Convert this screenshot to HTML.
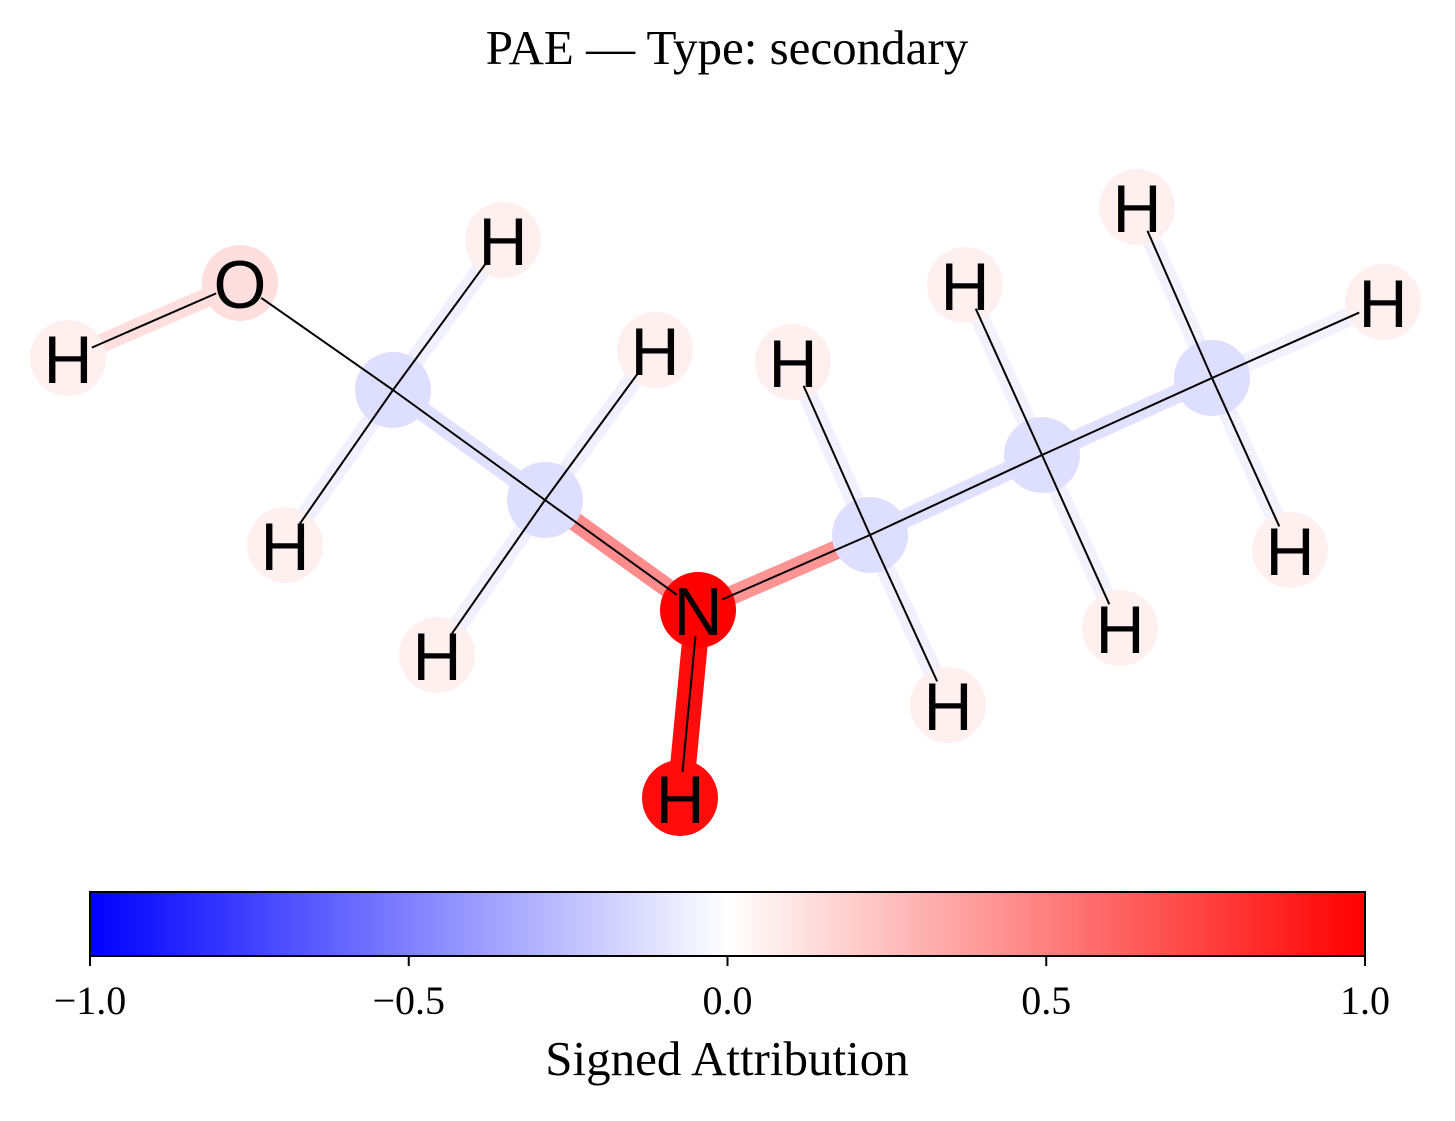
<!DOCTYPE html>
<html><head><meta charset="utf-8"><style>
body{margin:0;background:#fff}
svg text{font-family:"Liberation Serif",serif}
.atom{font-family:"Liberation Sans",sans-serif;font-size:68px}
</style></head><body>
<svg id="chart" width="1455" height="1116" viewBox="0 0 1455 1116" xmlns="http://www.w3.org/2000/svg">
<defs>
<linearGradient id="bwr" x1="0" x2="1" y1="0" y2="0">
<stop offset="0" stop-color="#0000ff"/><stop offset="0.5" stop-color="#ffffff"/><stop offset="1" stop-color="#ff0000"/>
</linearGradient>
</defs>
<text x="727" y="64" text-anchor="middle" font-size="49">PAE — Type: secondary</text>
<g id="bonds"></g>
<g id="atoms"></g>
<g id="lines"></g>
<g id="labels"></g>
<rect x="90" y="892" width="1275" height="64" fill="url(#bwr)" stroke="#000" stroke-width="2"/>
<g id="ticks"></g>
<text x="727" y="1075" text-anchor="middle" font-size="49">Signed Attribution</text>
</svg>
<script>
const atomLabels=["O","H","C","H","H","C","H","H","N","H","C","H","H","C","H","H","C","H","H","H"];
const atomX=[240,68,393,503,285,545,655,437,698,680,870,793,948,1042,965,1120,1212,1137,1290,1383];
const atomY=[283,358,390,240,545,500,350,655,610,798,535,362,705,455,285,628,378,207,550,302];
const atomValues=[0.13,0.06,-0.13,0.06,0.06,-0.13,0.06,0.06,1.0,0.95,-0.13,0.06,0.06,-0.13,0.06,0.06,-0.13,0.06,0.06,0.06];
const bondFrom=[0,0,2,2,2,5,5,5,8,8,10,10,10,13,13,13,16,16,16];
const bondTo=[1,2,3,4,5,6,7,8,9,10,11,12,13,14,15,16,17,18,19];
const bondValues=[0.13,0.0,-0.06,-0.06,-0.12,-0.06,-0.06,0.45,0.95,0.42,-0.06,-0.06,-0.12,-0.05,-0.05,-0.12,-0.05,-0.05,-0.05];
const tickValues=[-1,-0.5,0,0.5,1];
const tickLabels=["−1.0","−0.5","0.0","0.5","1.0"];
const NS="http://www.w3.org/2000/svg";
function bwr(v){v=Math.max(-1,Math.min(1,v));let r,g,b;
 if(v<0){r=g=Math.round(255*(1+v));b=255}else{r=255;g=b=Math.round(255*(1-v))}
 return `rgb(${r},${g},${b})`;}
function cx(v){return 90+(v+1)/2*1275;}
const bg=document.getElementById('bonds'),lg=document.getElementById('lines');
bondFrom.forEach((f,i)=>{const t=bondTo[i];
 if(Math.abs(bondValues[i])>0.01){const h=document.createElementNS(NS,'line');
  
  
  h.setAttribute('x1',atomX[f]);h.setAttribute('y1',atomY[f]);h.setAttribute('x2',atomX[t]);h.setAttribute('y2',atomY[t]);
  h.setAttribute('stroke',bwr(bondValues[i]));h.setAttribute('stroke-width',Math.abs(bondValues[i])>0.8?26:19);bg.appendChild(h);}
 const dx=atomX[t]-atomX[f],dy=atomY[t]-atomY[f],L=Math.hypot(dx,dy);
 const s1=atomLabels[f]==="C"?0:26,s2=atomLabels[t]==="C"?0:26;
 const l=document.createElementNS(NS,'line');
 
 
 l.setAttribute('x1',atomX[f]+dx*s1/L);l.setAttribute('y1',atomY[f]+dy*s1/L);l.setAttribute('x2',atomX[t]-dx*s2/L);l.setAttribute('y2',atomY[t]-dy*s2/L);
 l.setAttribute('stroke','#000');l.setAttribute('stroke-width',2);lg.appendChild(l);});
const ag=document.getElementById('atoms'),tlg=document.getElementById('labels');
atomLabels.forEach((s,i)=>{const c=document.createElementNS(NS,'circle');
 
 
 c.setAttribute('cx',atomX[i]);c.setAttribute('cy',atomY[i]);c.setAttribute('r',38);c.setAttribute('fill',bwr(atomValues[i]));ag.appendChild(c);
 if(s!=="C"){const t=document.createElementNS(NS,'text');
  
  
  t.setAttribute('class','atom');t.setAttribute('x',atomX[i]);t.setAttribute('y',atomY[i]+25);t.setAttribute('text-anchor','middle');t.textContent=s;tlg.appendChild(t);}});
const tg=document.getElementById('ticks');
tickValues.forEach((v,i)=>{const l=document.createElementNS(NS,'line');
 
 
 l.setAttribute('x1',cx(v));l.setAttribute('x2',cx(v));l.setAttribute('y1',956);l.setAttribute('y2',966);l.setAttribute('stroke','#000');l.setAttribute('stroke-width',2);tg.appendChild(l);
 const t=document.createElementNS(NS,'text');
 
 
 t.setAttribute('x',cx(v));t.setAttribute('y',1014);t.setAttribute('text-anchor','middle');t.setAttribute('font-size','40');t.textContent=tickLabels[i];tg.appendChild(t);});
</script>
</body></html>
